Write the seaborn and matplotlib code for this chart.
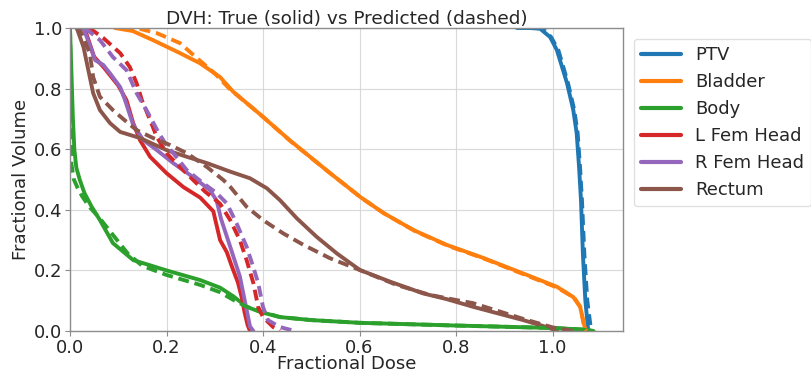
import matplotlib
matplotlib.use("Agg")
import matplotlib.pyplot as plt
import seaborn as sns
import pandas as pd

structures = ["PTV", "Bladder", "Body", "L Fem Head", "R Fem Head", "Rectum"]
colors = ["#1f77b4", "#ff7f0e", "#2ca02c", "#d62728", "#9467bd", "#8c564b"]

# ---- True DVH (solid) ----
ptv_true_dose = [0.926, 0.95, 0.974, 0.995, 1.009, 1.03, 1.043, 1.05, 1.055, 1.059, 1.063, 1.068, 1.074]
ptv_true_vol = [1.0, 1.0, 0.998, 0.97, 0.927, 0.818, 0.729, 0.653, 0.54, 0.43, 0.25, 0.1, 0.0]

bladder_true_dose = [0.093, 0.13, 0.172, 0.228, 0.269, 0.311, 0.338, 0.394, 0.455, 0.532, 0.601, 0.649, 0.712, 0.781, 0.85, 0.939, 1.009, 1.043, 1.057, 1.067, 1.072]
bladder_true_vol = [1.0, 0.99, 0.96, 0.917, 0.884, 0.838, 0.79, 0.715, 0.63, 0.53, 0.443, 0.39, 0.333, 0.284, 0.245, 0.19, 0.146, 0.112, 0.08, 0.01, 0.0]

body_true_dose = [0.0, 0.003, 0.006, 0.009, 0.013, 0.02, 0.03, 0.045, 0.062, 0.089, 0.131, 0.2, 0.27, 0.311, 0.338, 0.366, 0.394, 0.435, 0.5, 0.6, 0.8, 1.0, 1.06, 1.085]
body_true_vol = [1.0, 0.85, 0.7, 0.6, 0.54, 0.5, 0.455, 0.41, 0.366, 0.29, 0.234, 0.2, 0.168, 0.143, 0.115, 0.08, 0.063, 0.046, 0.036, 0.027, 0.018, 0.01, 0.005, 0.0]

lfem_true_dose = [0.03, 0.05, 0.07, 0.1, 0.117, 0.131, 0.145, 0.166, 0.2, 0.235, 0.27, 0.297, 0.311, 0.325, 0.335, 0.348, 0.356, 0.362, 0.368, 0.373]
lfem_true_vol = [1.0, 0.905, 0.87, 0.81, 0.762, 0.686, 0.63, 0.575, 0.521, 0.475, 0.44, 0.395, 0.3, 0.26, 0.215, 0.16, 0.11, 0.06, 0.02, 0.0]

rfem_true_dose = [0.028, 0.052, 0.069, 0.083, 0.104, 0.114, 0.131, 0.152, 0.18, 0.214, 0.255, 0.29, 0.304, 0.313, 0.332, 0.352, 0.366, 0.373, 0.38]
rfem_true_vol = [1.0, 0.894, 0.878, 0.85, 0.805, 0.762, 0.68, 0.63, 0.597, 0.554, 0.508, 0.465, 0.43, 0.37, 0.278, 0.18, 0.07, 0.015, 0.0]

rectum_true_dose = [0.014, 0.028, 0.038, 0.048, 0.062, 0.083, 0.104, 0.145, 0.2, 0.242, 0.284, 0.332, 0.373, 0.408, 0.435, 0.47, 0.511, 0.553, 0.601, 0.663, 0.732, 0.781, 0.835, 0.939, 0.988, 1.01]
rectum_true_vol = [1.0, 0.937, 0.861, 0.785, 0.729, 0.686, 0.657, 0.637, 0.597, 0.575, 0.554, 0.526, 0.504, 0.471, 0.432, 0.372, 0.311, 0.256, 0.201, 0.163, 0.124, 0.105, 0.08, 0.036, 0.013, 0.0]

# ---- Predicted DVH (dashed) ----
ptv_pred_dose = [0.93, 0.96, 0.98, 0.997, 1.012, 1.032, 1.045, 1.052, 1.057, 1.061, 1.066, 1.072, 1.08]
ptv_pred_vol = [1.0, 1.0, 0.998, 0.97, 0.927, 0.818, 0.729, 0.653, 0.54, 0.43, 0.25, 0.1, 0.0]

bladder_pred_dose = [0.11, 0.138, 0.18, 0.228, 0.26, 0.3, 0.33, 0.394, 0.456, 0.535, 0.605, 0.653, 0.716, 0.785, 0.855, 0.942, 1.01, 1.045, 1.058, 1.066, 1.07]
bladder_pred_vol = [1.0, 1.0, 0.983, 0.95, 0.905, 0.85, 0.8, 0.715, 0.628, 0.526, 0.438, 0.386, 0.329, 0.28, 0.241, 0.186, 0.143, 0.11, 0.078, 0.01, 0.0]

body_pred_dose = [0.0, 0.001, 0.002, 0.003, 0.008, 0.015, 0.025, 0.04, 0.06, 0.09, 0.12, 0.15, 0.2, 0.27, 0.311, 0.338, 0.366, 0.4, 0.435, 0.5, 0.6, 0.8, 1.0, 1.06, 1.085]
body_pred_vol = [1.0, 0.9, 0.7, 0.55, 0.5, 0.475, 0.445, 0.41, 0.375, 0.315, 0.255, 0.215, 0.185, 0.152, 0.128, 0.103, 0.08, 0.062, 0.046, 0.036, 0.027, 0.018, 0.01, 0.005, 0.0]

lfem_pred_dose = [0.04, 0.069, 0.104, 0.124, 0.138, 0.149, 0.166, 0.18, 0.2, 0.228, 0.262, 0.28, 0.311, 0.332, 0.352, 0.366, 0.38, 0.39, 0.4, 0.421, 0.435]
lfem_pred_vol = [1.0, 0.967, 0.917, 0.871, 0.818, 0.762, 0.696, 0.64, 0.587, 0.541, 0.488, 0.46, 0.42, 0.366, 0.3, 0.234, 0.158, 0.079, 0.046, 0.013, 0.0]

rfem_pred_dose = [0.031, 0.062, 0.089, 0.117, 0.138, 0.162, 0.18, 0.197, 0.214, 0.242, 0.276, 0.304, 0.325, 0.345, 0.366, 0.38, 0.39, 0.4, 0.41, 0.435, 0.466]
rfem_pred_vol = [1.0, 0.96, 0.904, 0.861, 0.785, 0.719, 0.665, 0.62, 0.587, 0.531, 0.488, 0.455, 0.421, 0.356, 0.278, 0.21, 0.158, 0.079, 0.036, 0.013, 0.0]

rectum_pred_dose = [0.012, 0.021, 0.041, 0.048, 0.062, 0.089, 0.11, 0.138, 0.172, 0.207, 0.242, 0.284, 0.318, 0.332, 0.366, 0.4, 0.442, 0.484, 0.539, 0.601, 0.677, 0.746, 0.801, 0.835, 0.939, 1.0, 1.043]
rectum_pred_vol = [1.0, 0.993, 0.917, 0.838, 0.773, 0.729, 0.7, 0.663, 0.637, 0.614, 0.587, 0.541, 0.498, 0.476, 0.41, 0.366, 0.322, 0.284, 0.24, 0.201, 0.152, 0.119, 0.102, 0.092, 0.04, 0.012, 0.0]

true_curves = [
    (ptv_true_dose, ptv_true_vol), (bladder_true_dose, bladder_true_vol),
    (body_true_dose, body_true_vol), (lfem_true_dose, lfem_true_vol),
    (rfem_true_dose, rfem_true_vol), (rectum_true_dose, rectum_true_vol),
]
pred_curves = [
    (ptv_pred_dose, ptv_pred_vol), (bladder_pred_dose, bladder_pred_vol),
    (body_pred_dose, body_pred_vol), (lfem_pred_dose, lfem_pred_vol),
    (rfem_pred_dose, rfem_pred_vol), (rectum_pred_dose, rectum_pred_vol),
]

sns.set_style("whitegrid", {
    "axes.edgecolor": "0.55",
    "grid.color": "0.85",
    "xtick.bottom": True,
    "ytick.left": True,
    "xtick.color": "0.15",
    "ytick.color": "0.15",
})
plt.rcParams["font.family"] = ["DejaVu Sans"]
FS = 13.0

fig = plt.figure(figsize=(8.11, 3.74), dpi=100)
ax = fig.add_axes([70 / 811, 1 - 331 / 374, (623 - 70) / 811, (331 - 28) / 374])

LW = 2.8
for name, col, (d, v) in zip(structures, colors, true_curves):
    df = pd.DataFrame({"dose": d, "vol": v})
    sns.lineplot(data=df, x="dose", y="vol", sort=False, estimator=None,
                 color=col, linewidth=LW, label=name, ax=ax)
for name, col, (d, v) in zip(structures, colors, pred_curves):
    df = pd.DataFrame({"dose": d, "vol": v})
    sns.lineplot(data=df, x="dose", y="vol", sort=False, estimator=None,
                 color=col, linewidth=LW, ax=ax)
    ax.lines[-1].set_dashes([2.8, 1.5])

ax.set_xlim(0, 1.146)
ax.set_ylim(0, 1.0)
ax.set_xticks([0.0, 0.2, 0.4, 0.6, 0.8, 1.0])
ax.set_yticks([0.0, 0.2, 0.4, 0.6, 0.8, 1.0])
ax.tick_params(labelsize=FS, length=3.5, width=0.8, color="0.55", pad=2)
for s in ax.spines.values():
    s.set_linewidth(1.0)
ax.set_xlabel("Fractional Dose", fontsize=FS, labelpad=-1)
ax.set_ylabel("Fractional Volume", fontsize=FS, labelpad=3)
ax.set_title("DVH: True (solid) vs Predicted (dashed)", fontsize=13.3, pad=3)

leg = ax.legend(loc="upper left", bbox_to_anchor=(1.0, 1.0), fontsize=FS,
                handlelength=2.2, frameon=True, labelspacing=0.5, borderaxespad=0.6)
for line in leg.get_lines():
    line.set_linewidth(3.0)
leg.get_frame().set_edgecolor("0.85")

fig.savefig("out.png", dpi=100)
